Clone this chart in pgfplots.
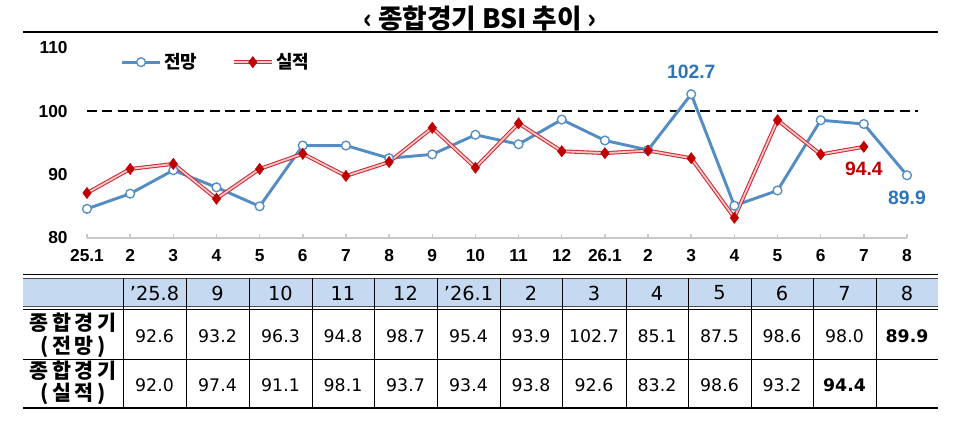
\documentclass[border=0pt]{standalone}
\usepackage{pgfplots}
\pgfplotsset{compat=1.18}
\usepackage{fontspec}
\setmainfont{Liberation Sans}
\newfontfamily\kr{Noto Sans CJK KR}
\newfontfamily\krsp{Noto Sans CJK KR}[LetterSpace=18]
\newfontfamily\dv{DejaVu Sans}
\definecolor{bl}{RGB}{84,141,196}
\definecolor{bltxt}{RGB}{46,117,182}
\definecolor{rd}{RGB}{192,0,0}
\definecolor{rdline}{RGB}{205,45,55}
\definecolor{rdin}{RGB}{245,200,200}
\definecolor{hdr}{RGB}{197,217,241}
\definecolor{axgray}{RGB}{200,200,200}
\begin{document}
\begin{tikzpicture}
\begin{axis}[
  at={(65.25pt,141pt)}, anchor=south west,
  scale only axis, width=615pt, height=142.5pt,
  xmin=0, xmax=19, ymin=80, ymax=110,
  clip=false,
  axis x line*=bottom, axis y line*=left,
  y axis line style={draw=none},
  x axis line style={draw=axgray, line width=1.1pt, -},
  xtick={0,...,19},
  xticklabels={25.1,2,3,4,5,6,7,8,9,10,11,12,26.1,2,3,4,5,6,7,8},
  ytick={80,90,100,110},
  major y tick style={draw=none},
  major x tick style={draw=axgray, line width=1.1pt},
  major tick length=3pt,
  tick align=inside,
  /pgf/number format/assume math mode=true,
  tick label style={font=\bfseries\fontsize{13pt}{15pt}\selectfont},
  yticklabel style={xshift=-11pt},
  xticklabel style={yshift=-5pt},
  legend style={at={(0,1)}, anchor=north west, xshift=22pt, yshift=0pt, draw=none, fill=none,
    font=\kr\bfseries\fontsize{13.5pt}{15pt}\selectfont,
    /tikz/every even column/.append style={column sep=24pt}},
  legend columns=2,
  legend image code/.code={\draw[mark repeat=2,mark phase=2,#1] plot coordinates {(0cm,0cm) (0.5cm,0cm) (1cm,0cm)};},
]
\draw[black, line width=1.4pt, dash pattern=on 7.5pt off 4pt] (axis cs:0,100) -- (axis cs:19.25,100);
\addplot[bl, line width=2.2pt, mark=*, mark size=3.3pt, mark options={fill=white, draw=bl, line width=1pt}]
coordinates {(0,84.6) (1,87.0) (2,90.7) (3,88.0) (4,85.0) (5,94.6) (6,94.6) (7,92.6) (8,93.2) (9,96.3)
(10,94.8) (11,98.7) (12,95.4) (13,93.9) (14,102.7) (15,85.1) (16,87.5) (17,98.6) (18,98.0) (19,89.9)};
\addlegendentry{전망}
\addplot[rdline, line width=0.8pt, double=rdin, double distance=1.3pt, mark=diamond*, mark size=4.2pt, mark options={fill=rd, draw=rd, line width=0.4pt, double=none}]
coordinates {(0,87.1) (1,90.9) (2,91.7) (3,86.2) (4,90.9) (5,93.3) (6,89.8) (7,92.0) (8,97.4) (9,91.1)
(10,98.1) (11,93.7) (12,93.4) (13,93.8) (14,92.6) (15,83.2) (16,98.6) (17,93.2) (18,94.4)};
\addlegendentry{실적}
\node[text=bltxt, font=\bfseries\fontsize{14.5pt}{16pt}\selectfont] at (axis cs:14,102.7) [yshift=16.5pt] {102.7};
\node[text=bltxt, font=\bfseries\fontsize{14.5pt}{16pt}\selectfont] at (axis cs:19,89.9) [yshift=-17pt] {89.9};
\node[text=rd, font=\bfseries\fontsize{14.5pt}{16pt}\selectfont] at (axis cs:18,94.4) [yshift=-16.5pt] {94.4};
\end{axis}

\begin{scope}[x=0.75pt,y=0.75pt]
\useasboundingbox (0,0) rectangle (964,426);
% title
\node[font=\kr\bfseries\fontsize{20pt}{22pt}\selectfont] at (480,408) {‹ 종합경기 BSI 추이 ›};
\draw[line width=1.8pt] (23,394) -- (938,394);
% table
\fill[hdr] (23,148) rectangle (938,120);
\draw[line width=0.6pt] (23,152) -- (938,152);
\draw[line width=0.5pt, black!70] (23,148) -- (938,148);
\draw[line width=0.5pt, black!70] (23,120) -- (938,120);
\draw[line width=0.6pt] (23,117) -- (938,117);
\draw[line width=0.6pt] (23,67) -- (938,67);
\draw[line width=1.8pt] (23,18) -- (938,18);
\foreach \xx in {123,186,249,312,374,437,500,562,626,688,751,813,876}
  \draw[line width=0.6pt] (\xx,148) -- (\xx,18);
\foreach \cx/\h/\a/\b in {154.5/’25.8/92.6/92.0, 217.5/9/93.2/97.4, 280.5/10/96.3/91.1, 343/11/94.8/98.1,
  405.5/12/98.7/93.7, 468.5/’26.1/95.4/93.4, 531/2/93.9/93.8, 594/3/102.7/92.6, 657/4/85.1/83.2,
  719.5/5/87.5/98.6, 782/6/98.6/93.2}{
  \node[font=\dv\fontsize{14.5pt}{16pt}\selectfont] at (\cx,133) {\h};
  \node[font=\dv\fontsize{13pt}{15pt}\selectfont] at (\cx,90) {\a};
  \node[font=\dv\fontsize{13pt}{15pt}\selectfont] at (\cx,41) {\b};
}
\node[font=\dv\fontsize{14.5pt}{16pt}\selectfont] at (844.5,133) {7};
\node[font=\dv\fontsize{13pt}{15pt}\selectfont] at (844.5,90) {98.0};
\node[font=\dv\bfseries\fontsize{13pt}{15pt}\selectfont] at (844.5,41) {94.4};
\node[font=\dv\fontsize{14.5pt}{16pt}\selectfont] at (907,133) {8};
\node[font=\dv\bfseries\fontsize{13pt}{15pt}\selectfont] at (907,90) {89.9};
\node[font=\krsp\bfseries\fontsize{15.5pt}{17pt}\selectfont] at (73,103) {종합경기};
\node[font=\krsp\bfseries\fontsize{15.5pt}{17pt}\selectfont] at (73,79) {(전망)};
\node[font=\krsp\bfseries\fontsize{15.5pt}{17pt}\selectfont] at (73,55) {종합경기};
\node[font=\krsp\bfseries\fontsize{15.5pt}{17pt}\selectfont] at (73,32) {(실적)};
\end{scope}
\end{tikzpicture}
\end{document}
